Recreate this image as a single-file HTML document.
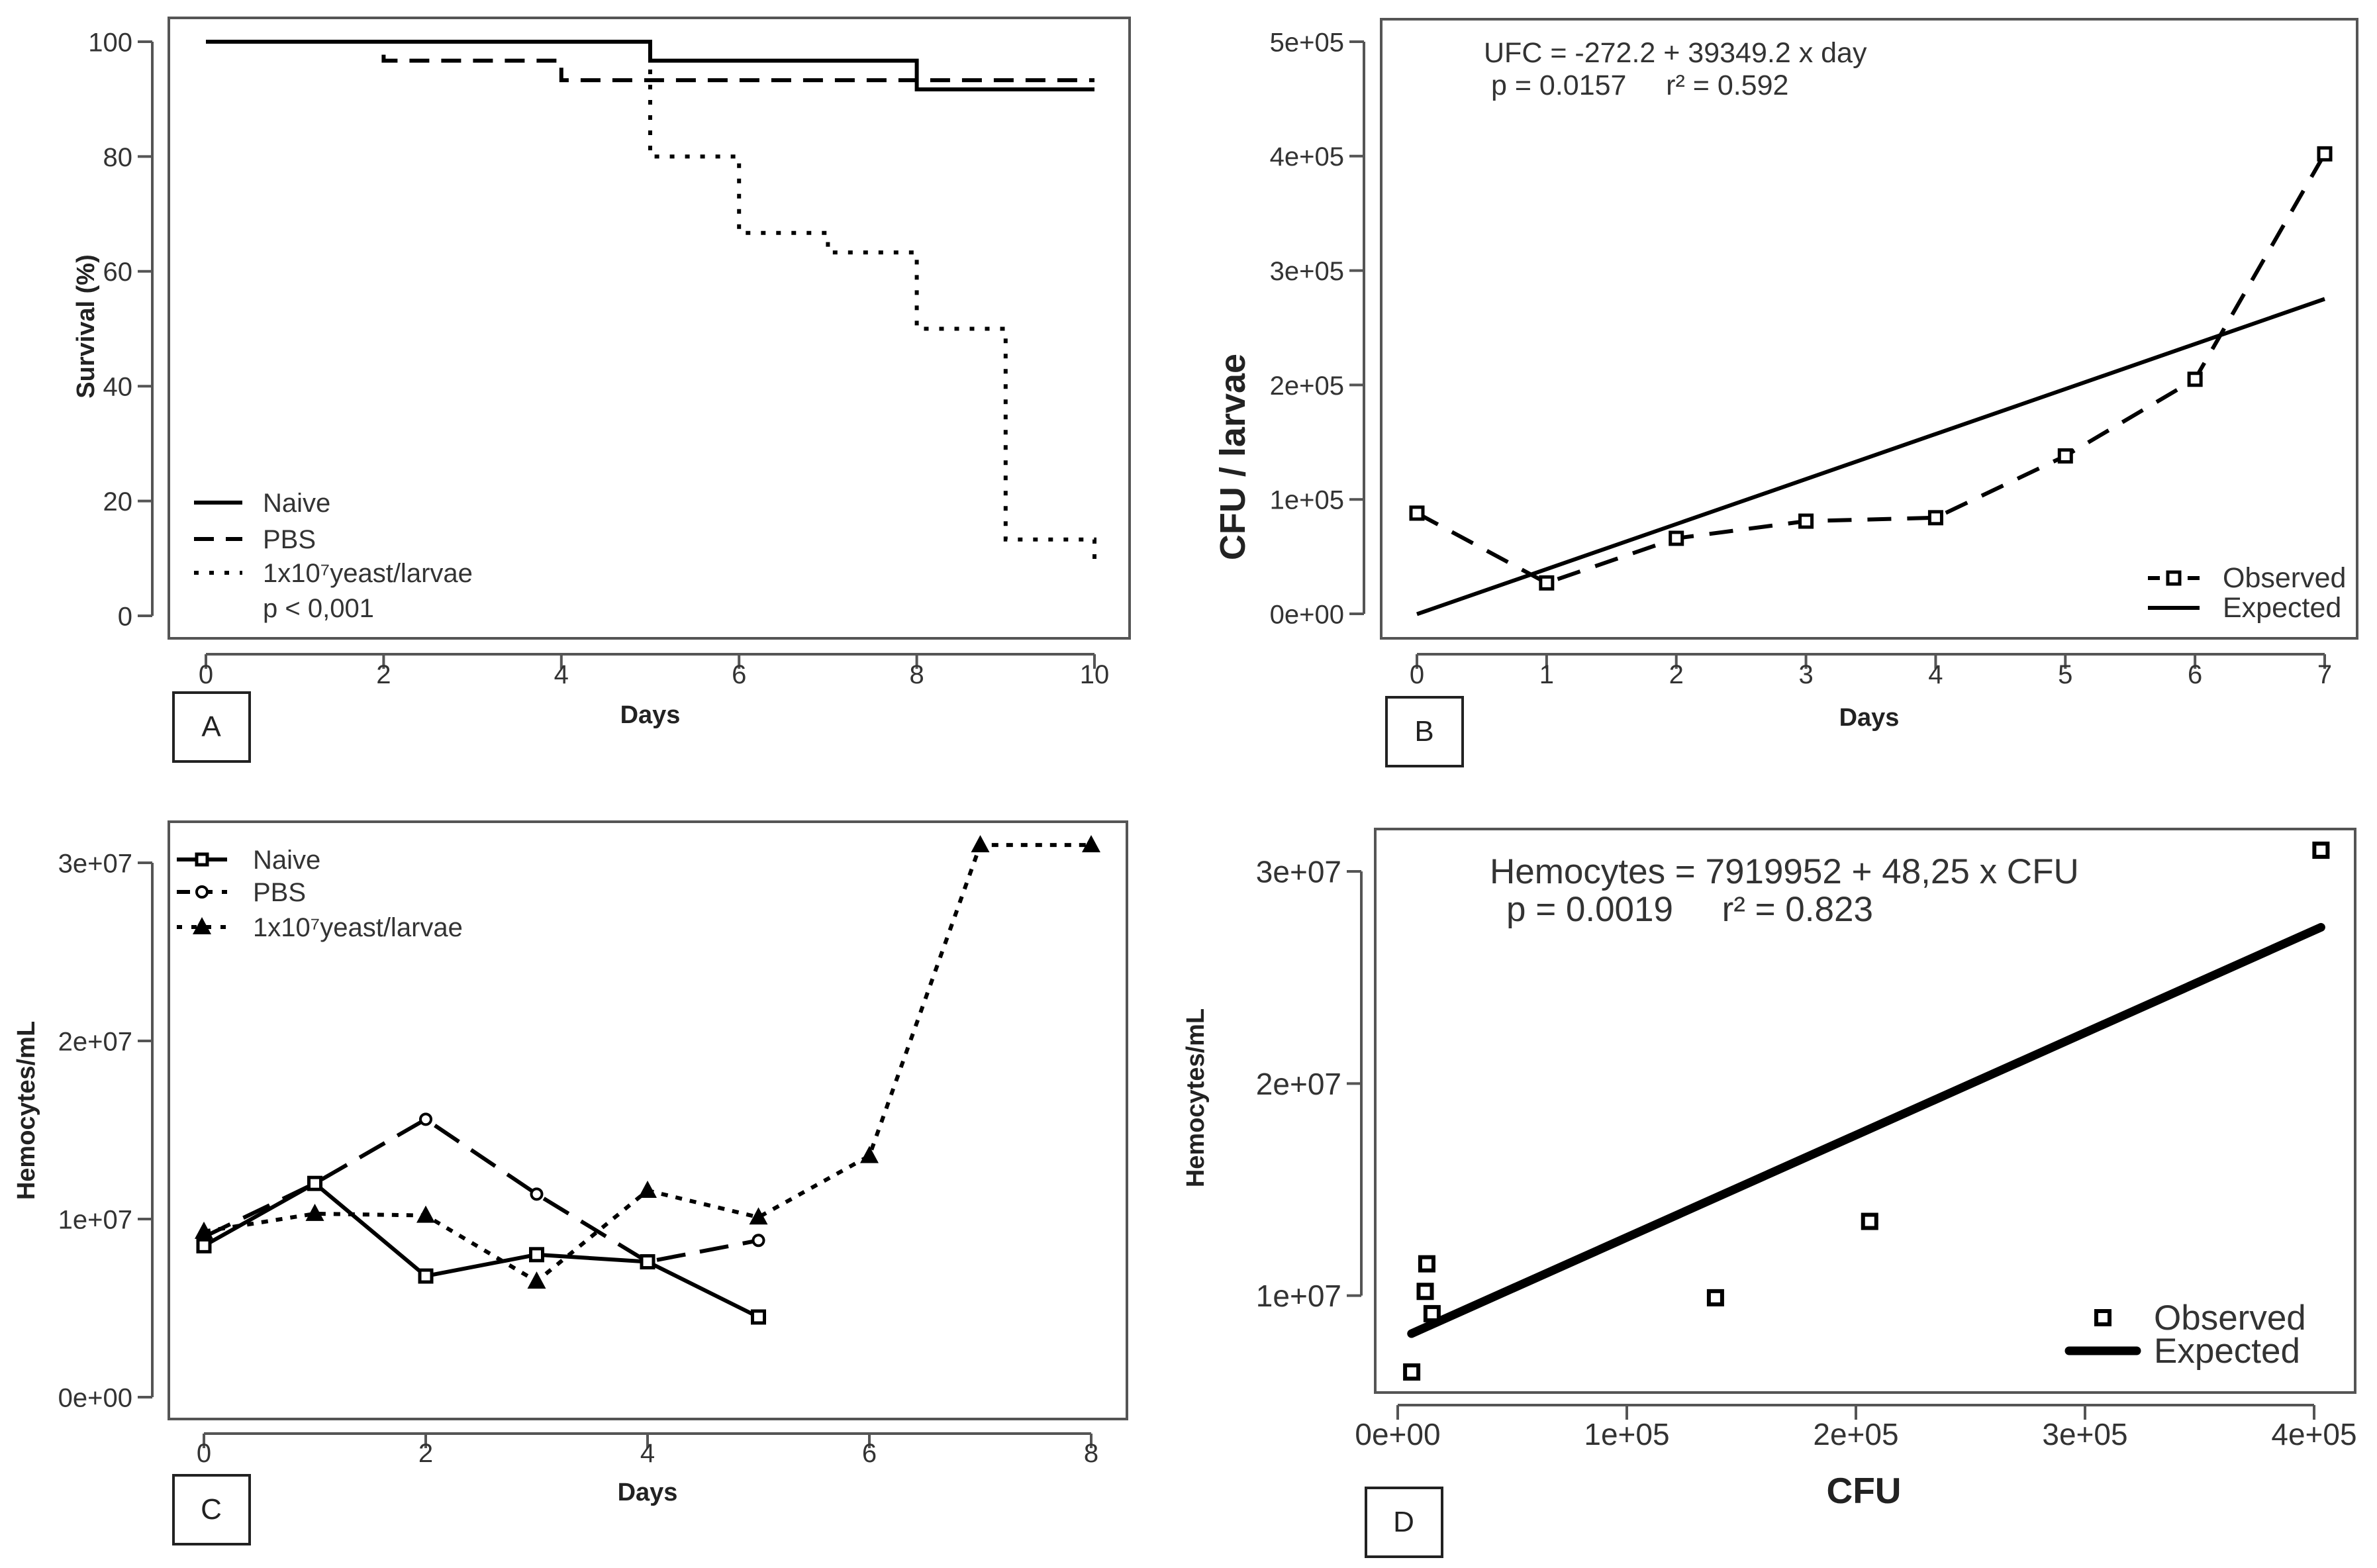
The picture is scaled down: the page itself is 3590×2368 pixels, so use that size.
<!DOCTYPE html>
<html><head><meta charset="utf-8"><style>
html,body{margin:0;padding:0;background:#fff;}
svg{display:block;font-family:"Liberation Sans",Arial,sans-serif;}
.tk{fill:#333;}
.ttl{font-weight:bold;fill:#222;}
.lg{fill:#333;}
.pre{white-space:pre;}
</style></head><body>
<svg id="fig" width="3590" height="2368" viewBox="0 0 3590 2368" xmlns="http://www.w3.org/2000/svg"></svg>
<script>
// ---- Panel A data (survival) ----
const aDays=[0,2,4,5,6,7,8,9,10];
const aNaive=[100,100,100,96.7,96.7,96.7,91.7,91.7,91.7];
const aPBS=[100,96.7,93.3,93.3,93.3,93.3,93.3,93.3,93.3];
const aYeast=[100,100,100,80,66.7,63.3,50,13.3,8.3];
const aXTicks=[0,2,4,6,8,10];
const aYTicks=[0,20,40,60,80,100];
// ---- Panel B data ----
const bDays=[0,1,2,3,4,5,6,7];
const bObserved=[88000,27000,66000,81000,84000,138000,205000,402000];
const bIntercept=-272.2;
const bSlope=39349.2;
const bXTicks=[0,1,2,3,4,5,6,7];
const bYTicks=[0,100000,200000,300000,400000,500000];
const bYLabels=["0e+00","1e+05","2e+05","3e+05","4e+05","5e+05"];
// ---- Panel C data ----
const cDaysNaive=[0,1,2,3,4,5];
const cNaive=[8.5e6,1.2e7,6.8e6,8.0e6,7.6e6,4.5e6];
const cDaysPBS=[0,1,2,3,4,5];
const cPBS=[9.0e6,1.2e7,1.56e7,1.14e7,7.6e6,8.8e6];
const cDaysYeast=[0,1,2,3,4,5,6,7,8];
const cYeast=[9.3e6,1.03e7,1.02e7,6.5e6,1.16e7,1.01e7,1.355e7,3.1e7,3.1e7];
const cXTicks=[0,2,4,6,8];
const cYTicks=[0,1e7,2e7,3e7];
const cYLabels=["0e+00","1e+07","2e+07","3e+07"];
// ---- Panel D data ----
const dCFU=[6100,12700,12000,15000,138700,206000,403000];
const dHemo=[6.4e6,1.15e7,1.02e7,9.15e6,9.9e6,1.35e7,3.1e7];
const dIntercept=7919952;
const dSlope=48.25;
const dXTicks=[0,100000,200000,300000,400000];
const dXLabels=["0e+00","1e+05","2e+05","3e+05","4e+05"];
const dYTicks=[1e7,2e7,3e7];
const dYLabels=["1e+07","2e+07","3e+07"];

const NS="http://www.w3.org/2000/svg";
const svg=document.getElementById('fig');
function mk(tag,attrs,parent){const e=document.createElementNS(NS,tag);
 if(tag==='text'&&!('font-size' in attrs)){attrs['font-size']=(attrs['class']||'').indexOf('ttl')>=0?38:40;}
 for(const k in attrs)e.setAttribute(k,attrs[k]);
 if('font-size' in attrs)e.style.fontSize=attrs['font-size']+'px';
 (parent||svg).appendChild(e);return e;}
function lin(d0,d1,p0,p1){return v=>p0+(v-d0)*(p1-p0)/(d1-d0);}
function stepPath(xs,ys,sx,sy){let d='M'+sx(xs[0])+','+sy(ys[0]);for(let i=1;i<xs.length;i++){d+=' H'+sx(xs[i])+' V'+sy(ys[i]);}return d;}
function polyPath(xs,ys,sx,sy){return xs.map((x,i)=>(i?'L':'M')+sx(x)+','+sy(ys[i])).join(' ');}

function frame(g,x0,y0,x1,y1){const r=mk('rect',{x:x0,y:y0,width:x1-x0,height:y1-y0,fill:'none',stroke:'#555','stroke-width':4},g);

}
function xAxis(g,ticks,labels,sx,yAxis,tl,ly,fs){
 const ax=mk('g',{},g);
 
 
 mk('line',{x1:sx(ticks[0]),x2:sx(ticks[ticks.length-1]),y1:yAxis,y2:yAxis,stroke:'#555','stroke-width':4},ax);
 ticks.forEach((t,i)=>{mk('line',{x1:sx(t),x2:sx(t),y1:yAxis,y2:yAxis+tl,stroke:'#555','stroke-width':4},ax);
  const tx=mk('text',{x:sx(t),y:ly,'text-anchor':'middle',class:'tk','font-size':fs},ax);tx.textContent=labels[i];
  
  });
}
function yAxis(g,ticks,labels,sy,xAxisPos,tl,fs){
 const ax=mk('g',{},g);
 
 
 mk('line',{x1:xAxisPos,x2:xAxisPos,y1:sy(ticks[0]),y2:sy(ticks[ticks.length-1]),stroke:'#555','stroke-width':4},ax);
 ticks.forEach((t,i)=>{mk('line',{x1:xAxisPos-tl,x2:xAxisPos,y1:sy(t),y2:sy(t),stroke:'#555','stroke-width':4},ax);
  const tx=mk('text',{x:xAxisPos-tl-8,y:sy(t)+fs*0.36,'text-anchor':'end',class:'tk','font-size':fs},ax);tx.textContent=labels[i];
  
  });
}
function label(g,x,y,txt,name){const r=mk('rect',{x:x,y:y,width:115,height:104,fill:'#fff',stroke:'#222','stroke-width':4},g);
 
 
 const t=mk('text',{x:x+57,y:y+66,'text-anchor':'middle','font-size':44,fill:'#222'},g);t.textContent=txt;
 
 }
function sq(g,x,y,s,sw){const r=mk('rect',{x:x-s/2,y:y-s/2,width:s,height:s,fill:'#fff',stroke:'#000','stroke-width':sw},g);
 
 return r;}
function circ(g,x,y){const c=mk('circle',{cx:x,cy:y,r:8,fill:'#fff',stroke:'#000','stroke-width':4},g);
 
 }
function tri(g,x,y){const p=mk('polygon',{points:`${x},${y-15} ${x-14},${y+11} ${x+14},${y+11}`,fill:'#000'},g);
 
 }

// ===== Panel A =====
{
 const g=mk('g',{});
 
 
 const sx=lin(0,10,311,1653), sy=lin(0,100,930,63);
 frame(g,255,27,1706,964);
 xAxis(g,aXTicks,aXTicks.map(String),sx,988,22,1032,40);
 yAxis(g,aYTicks,aYTicks.map(String),sy,230,22,40);
 const xt=mk('text',{x:982,y:1092,'text-anchor':'middle',class:'ttl'},g);xt.textContent='Days';
 
 
 const yt=mk('text',{x:0,y:0,'text-anchor':'middle',class:'ttl',transform:'translate(142,493) rotate(-90)'},g);yt.textContent='Survival (%)';
 
 
 const l1=mk('path',{d:stepPath(aDays,aNaive,sx,sy),fill:'none',stroke:'#000','stroke-width':6},g);
 
 
 const l2=mk('path',{d:stepPath(aDays,aPBS,sx,sy),fill:'none',stroke:'#000','stroke-width':6,'stroke-dasharray':'30,18'},g);
 
 
 const l3=mk('path',{d:stepPath(aDays,aYeast,sx,sy),fill:'none',stroke:'#000','stroke-width':6,'stroke-dasharray':'7,16'},g);
 
 
 const lg=mk('g',{},g);
 
 
 const ents=[['Naive',759,'none'],['PBS',814,'30,18'],['1x10⁷yeast/larvae',865,'7,16']];
 ents.forEach(e=>{mk('line',{x1:293,x2:366,y1:e[1],y2:e[1],stroke:'#000','stroke-width':6,'stroke-dasharray':e[2]},lg);
  const t=mk('text',{x:397,y:e[1]+14,class:'lg'},lg);t.textContent=e[0];
  
  });
 const p=mk('text',{x:397,y:932,class:'lg'},lg);p.textContent='p < 0,001';
 
 
 label(g,262,1046,'A','panel-label-a');
}
// ===== Panel B =====
{
 const g=mk('g',{});
 
 
 const sx=lin(0,7,2140,3511), sy=lin(0,500000,927,63);
 frame(g,2086,29,3560,964);
 xAxis(g,bXTicks,bXTicks.map(String),sx,988,22,1032,40);
 yAxis(g,bYTicks,bYLabels,sy,2060,22,40);
 const xt=mk('text',{x:2823,y:1096,'text-anchor':'middle',class:'ttl'},g);xt.textContent='Days';
 
 
 const yt=mk('text',{x:0,y:0,'text-anchor':'middle',class:'ttl','font-size':54,transform:'translate(1880,690) rotate(-90)'},g);yt.textContent='CFU / larvae';
 
 
 const ex=[0,7];
 const exp=mk('line',{x1:sx(ex[0]),y1:sy(bIntercept+bSlope*ex[0]),x2:sx(ex[1]),y2:sy(bIntercept+bSlope*ex[1]),stroke:'#000','stroke-width':6},g);
 
 
 const ob=mk('path',{d:polyPath(bDays,bObserved,sx,sy),fill:'none',stroke:'#000','stroke-width':6,'stroke-dasharray':'36,24'},g);
 
 
 bDays.forEach((d,i)=>sq(g,sx(d),sy(bObserved[i]),18,5));
 const e1=mk('text',{x:2241,y:94,class:'lg','font-size':43},g);e1.textContent='UFC = -272.2 + 39349.2 x day';
 
 
 const e2=mk('text',{x:2252,y:143,class:'lg pre','font-size':43},g);e2.textContent='p = 0.0157     r² = 0.592';
 
 
 const lg=mk('g',{},g);
 
 
 mk('line',{x1:3244,x2:3322,y1:873,y2:873,stroke:'#000','stroke-width':6,'stroke-dasharray':'18,12'},lg);
 sq(lg,3283,873,18,5);
 mk('line',{x1:3244,x2:3322,y1:918,y2:918,stroke:'#000','stroke-width':6},lg);
 const t1=mk('text',{x:3357,y:887,class:'lg','font-size':43},lg);t1.textContent='Observed';
 
 
 const t2=mk('text',{x:3357,y:932,class:'lg','font-size':43},lg);t2.textContent='Expected';
 
 
 label(g,2094,1053,'B','panel-label-b');
}
// ===== Panel C =====
{
 const g=mk('g',{});
 
 
 const sx=lin(0,8,308,1648), sy=lin(0,3e7,2110,1303);
 frame(g,255,1241,1702,2143);
 xAxis(g,cXTicks,cXTicks.map(String),sx,2165,22,2208,40);
 yAxis(g,cYTicks,cYLabels,sy,230,22,40);
 const xt=mk('text',{x:978,y:2266,'text-anchor':'middle',class:'ttl'},g);xt.textContent='Days';
 
 
 const yt=mk('text',{x:0,y:0,'text-anchor':'middle',class:'ttl',transform:'translate(52,1677) rotate(-90)'},g);yt.textContent='Hemocytes/mL';
 
 
 const l2=mk('path',{d:polyPath(cDaysPBS,cPBS,sx,sy),fill:'none',stroke:'#000','stroke-width':6,'stroke-dasharray':'44,22'},g);
 
 
 const l3=mk('path',{d:polyPath(cDaysYeast,cYeast,sx,sy),fill:'none',stroke:'#000','stroke-width':6,'stroke-dasharray':'10,12'},g);
 
 
 const l1=mk('path',{d:polyPath(cDaysNaive,cNaive,sx,sy),fill:'none',stroke:'#000','stroke-width':6},g);
 
 
 cDaysPBS.forEach((d,i)=>circ(g,sx(d),sy(cPBS[i])));
 cDaysYeast.forEach((d,i)=>tri(g,sx(d),sy(cYeast[i])));
 cDaysNaive.forEach((d,i)=>sq(g,sx(d),sy(cNaive[i]),18,5));
 const lg=mk('g',{},g);
 
 
 mk('line',{x1:267,x2:343,y1:1298,y2:1298,stroke:'#000','stroke-width':6},lg);sq(lg,305,1298,16,5);
 mk('line',{x1:267,x2:343,y1:1347,y2:1347,stroke:'#000','stroke-width':6,'stroke-dasharray':'20,14'},lg);circ(lg,305,1347);
 mk('line',{x1:267,x2:343,y1:1400,y2:1400,stroke:'#000','stroke-width':6,'stroke-dasharray':'8,14'},lg);tri(lg,305,1400);
 [['Naive',1298],['PBS',1347],['1x10⁷yeast/larvae',1400]].forEach(e=>{const t=mk('text',{x:382,y:e[1]+14,class:'lg'},lg);t.textContent=e[0];
  
  });
 label(g,262,2228,'C','panel-label-c');
}
// ===== Panel D =====
{
 const g=mk('g',{});
 
 
 const sx=lin(0,400000,2111,3495), sy=lin(0,3e7,2277,1316);
 frame(g,2077,1252,3557,2103);
 xAxis(g,dXTicks,dXLabels,sx,2122,22,2182,46);
 yAxis(g,dYTicks,dYLabels,sy,2056,22,46);
 const xt=mk('text',{x:2815,y:2270,'text-anchor':'middle',class:'ttl','font-size':55},g);xt.textContent='CFU';
 
 
 const yt=mk('text',{x:0,y:0,'text-anchor':'middle',class:'ttl',transform:'translate(1818,1658) rotate(-90)'},g);yt.textContent='Hemocytes/mL';
 
 
 const ex=[6000,403000];
 const rl=mk('line',{x1:sx(ex[0]),y1:sy(dIntercept+dSlope*ex[0]),x2:sx(ex[1]),y2:sy(dIntercept+dSlope*ex[1]),stroke:'#000','stroke-width':13,'stroke-linecap':'round'},g);
 
 
 dCFU.forEach((c,i)=>sq(g,sx(c),sy(dHemo[i]),20,6));
 const e1=mk('text',{x:2250,y:1334,class:'lg','font-size':53},g);e1.textContent='Hemocytes = 7919952 + 48,25 x CFU';
 
 
 const e2=mk('text',{x:2275,y:1391,class:'lg pre','font-size':53},g);e2.textContent='p = 0.0019     r² = 0.823';
 
 
 const lg=mk('g',{},g);
 
 
 sq(lg,3176,1990,20,6);
 mk('line',{x1:3125,x2:3227,y1:2040,y2:2040,stroke:'#000','stroke-width':13,'stroke-linecap':'round'},lg);
 const t1=mk('text',{x:3253,y:2008,class:'lg','font-size':53},lg);t1.textContent='Observed';
 
 
 const t2=mk('text',{x:3253,y:2058,class:'lg','font-size':53},lg);t2.textContent='Expected';
 
 
 label(g,2063,2247,'D','panel-label-d');
}
</script>
</body></html>
